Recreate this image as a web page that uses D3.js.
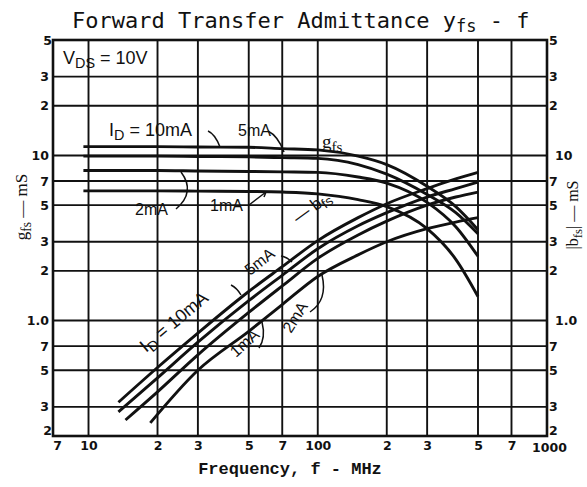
<!DOCTYPE html>
<html><head><meta charset="utf-8">
<script src="https://cdn.jsdelivr.net/npm/d3@7"></script>
<style>html,body{margin:0;padding:0;background:#fff;}svg{display:block;}</style>
</head><body>
<svg id="c" width="587" height="487"></svg>
<script>
// ---- data ----
const yTicks = [50, 30, 20, 10, 7, 5, 3, 2, 1, 0.7, 0.5, 0.3, 0.2];
const yTickLabels = ["5", "3", "2", "10", "7", "5", "3", "2", "1.0", "7", "5", "3", "2"];
const xTicks = [7, 10, 20, 30, 50, 70, 100, 200, 300, 500, 700, 1000];
const xTickLabels = ["7", "10", "2", "3", "5", "7", "100", "2", "3", "5", "7", "1000"];

const gfsFreq = [9.5, 20, 30, 50, 70, 100, 150, 200, 300, 400, 500];
const gfs10mA = [11.3, 11.3, 11.25, 11.2, 11.0, 10.8, 9.9, 8.8, 6.5, 4.9, 3.55];
const gfs5mA  = [9.9, 9.9, 9.85, 9.8, 9.7, 9.6, 8.8, 7.7, 5.8, 4.5, 3.35];
const gfs2mA  = [8.1, 8.1, 8.05, 8.0, 7.95, 7.9, 7.4, 6.8, 5.2, 3.7, 2.45];
const gfs1mA  = [6.1, 6.1, 6.08, 6.05, 6.0, 5.85, 5.4, 4.9, 3.6, 2.35, 1.4];

const bfsFreq10mA = [13.5, 20, 30, 50, 70, 100, 150, 200, 300, 400, 500];
const bfs10mA = [0.32, 0.52, 0.84, 1.5, 2.12, 3.05, 4.2, 5.1, 6.3, 7.2, 7.9];
const bfsFreq5mA = [13.5, 20, 30, 50, 70, 100, 150, 200, 300, 400, 500];
const bfs5mA = [0.28, 0.45, 0.74, 1.32, 1.88, 2.72, 3.75, 4.5, 5.6, 6.3, 6.9];
const bfsFreq2mA = [14.5, 20, 30, 50, 70, 100, 150, 200, 300, 400, 500];
const bfs2mA = [0.25, 0.37, 0.62, 1.12, 1.62, 2.38, 3.3, 4.0, 5.0, 5.6, 6.0];
const bfsFreq1mA = [18.6, 30, 50, 70, 100, 150, 200, 300, 400, 500];
const bfs1mA = [0.24, 0.5, 0.86, 1.25, 1.85, 2.5, 3.0, 3.6, 3.95, 4.2];

// ---- layout ----
const svg = d3.select("#c");
const L = 53, R = 547, T = 40, B = 436;
const x = d3.scaleLog().domain([7, 1000]).range([L, R]);
const y = d3.scaleLog().domain([0.2, 50]).range([B, T]);
const ink = "#111";

// grid
const g = svg.append("g");
g.selectAll("line.v").data(xTicks.slice(1, -1)).join("line")
  .attr("x1", d => x(d)).attr("x2", d => x(d)).attr("y1", T).attr("y2", B)
  .attr("stroke", ink).attr("stroke-width", 1.9);
g.selectAll("line.h").data(yTicks.slice(1, -1)).join("line")
  .attr("y1", d => y(d)).attr("y2", d => y(d)).attr("x1", L).attr("x2", R)
  .attr("stroke", ink).attr("stroke-width", 1.9);
g.append("rect").attr("x", L).attr("y", T).attr("width", R - L).attr("height", B - T)
  .attr("fill", "none").attr("stroke", ink).attr("stroke-width", 2.6);

// axes (labels via d3 axes)
const lab = "font-family:'DejaVu Sans';font-weight:bold;font-size:12.5px";
const leftAxis = d3.axisLeft(y).tickValues(yTicks).tickFormat((d, i) => yTickLabels[i]).tickSize(0).tickPadding(4);
const la = svg.append("g").attr("transform", `translate(${L},0)`).call(leftAxis);
const rightAxis = d3.axisRight(y).tickValues(yTicks).tickFormat((d, i) => yTickLabels[i]).tickSize(0).tickPadding(2);
const ra = svg.append("g").attr("transform", `translate(${R},0)`).call(rightAxis);
const bottomAxis = d3.axisBottom(x).tickValues(xTicks).tickFormat((d, i) => xTickLabels[i]).tickSize(0).tickPadding(5);
const ba = svg.append("g").attr("transform", `translate(0,${B})`).call(bottomAxis);
[la, ra, ba].forEach(a => {
  a.select(".domain").remove();
  a.selectAll("text").attr("style", lab).attr("fill", ink);
});
ra.selectAll("text").filter((d) => d === 10 || d === 1).attr("dx", 6);
ra.selectAll("text").filter((d) => d === 0.2).attr("dy", "-0.1em");
la.selectAll("text").filter((d) => d === 50).attr("dx", 3);
la.selectAll("text").filter((d) => d === 0.2).attr("dx", 3).attr("dy", "-0.15em");
ba.selectAll("text").filter((d) => d === 7).attr("dx", 4);
ba.selectAll("text").filter((d) => d === 1000).attr("dx", 2).attr("dy", "0.9em");

// curves
const line = d3.line().x(d => x(d[0])).y(d => y(d[1])).curve(d3.curveMonotoneX);
const gfsSeries = [gfs10mA, gfs5mA, gfs2mA, gfs1mA];
gfsSeries.forEach(s => {
  svg.append("path").attr("d", line(gfsFreq.map((f, i) => [f, s[i]])))
    .attr("fill", "none").attr("stroke", ink).attr("stroke-width", 2.9);
});
const bfsSeries = [[bfsFreq10mA, bfs10mA], [bfsFreq5mA, bfs5mA], [bfsFreq2mA, bfs2mA], [bfsFreq1mA, bfs1mA]];
bfsSeries.forEach(([fs, s]) => {
  svg.append("path").attr("d", line(fs.map((f, i) => [f, s[i]])))
    .attr("fill", "none").attr("stroke", ink).attr("stroke-width", 2.9);
});

// title
const title = svg.append("text").attr("x", 72).attr("y", 28)
  .attr("style", "font-family:'DejaVu Sans Mono';font-size:22px").attr("fill", ink);
title.append("tspan").text("Forward Transfer Admittance y");
title.append("tspan").attr("dy", 4).attr("font-size", 17).text("fs");
title.append("tspan").attr("dy", -4).text(" - f");

// text helper
const lbl = "font-family:'Liberation Sans';font-size:16px";
function sub(el, main, s, rest) {
  el.append("tspan").text(main);
  el.append("tspan").attr("dy", 4).attr("font-size", "0.8em").text(s);
  if (rest) el.append("tspan").attr("dy", -4).text(rest);
  return el;
}
sub(svg.append("text").attr("x", 63).attr("y", 64).attr("style", "font-family:'Liberation Sans';font-size:18px").attr("fill", ink), "V", "DS", " = 10V");
sub(svg.append("text").attr("x", 109).attr("y", 136).attr("style", "font-family:'Liberation Sans';font-size:18px").attr("fill", ink), "I", "D", " = 10mA");
svg.append("text").attr("x", 238).attr("y", 136).attr("style", lbl).attr("fill", ink).text("5mA");
sub(svg.append("text").attr("x", 322).attr("y", 148).attr("style", "font-family:'Liberation Serif';font-size:19px").attr("fill", ink), "g", "fs", null);
svg.append("text").attr("x", 135).attr("y", 215).attr("style", lbl).attr("fill", ink).text("2mA");
svg.append("text").attr("x", 210).attr("y", 211).attr("style", lbl).attr("fill", ink).text("1mA");

// leaders
const leader = (d) => svg.append("path").attr("d", d).attr("fill", "none").attr("stroke", ink).attr("stroke-width", 1.5);
leader("M208,131 Q215,134 220,147");
leader("M268,131 Q278,136 284,152");
leader("M181,172 Q196,192 176,209");
leader("M249,205 L266,192");
leader("M261,192 L266,192 L264,197");

// rotated bfs labels
function rot(xp, yp, ang, size, build) {
  const t = svg.append("text").attr("transform", `translate(${xp},${yp}) rotate(${ang})`)
    .attr("style", `font-family:'Liberation Sans';font-size:${size}px`).attr("fill", ink);
  build(t);
  return t;
}
rot(146, 353, -40, 18, t => sub(t, "I", "D", " = 10mA"));
rot(250, 276, -38, 16, t => t.text("5mA"));
rot(298, 224, -36, 17, t => sub(t, "— b", "fs", null));
rot(236, 358, -42, 16, t => t.text("1mA"));
rot(291, 334, -58, 16, t => t.text("2mA"));
leader("M231,285 Q237,288 241,295");
leader("M281,256 Q287,257 292,262");
leader("M259,348 Q266,338 262,322");
leader("M310,312 Q328,300 322,275");

// axis titles
const yl = svg.append("text").attr("transform", "translate(27,207) rotate(-90)").attr("text-anchor", "middle")
  .attr("style", "font-family:'Liberation Serif';font-size:17px").attr("fill", ink);
sub(yl, "g", "fs", " — mS");
const yr = svg.append("text").attr("transform", "translate(578,215) rotate(-90)").attr("text-anchor", "middle")
  .attr("style", "font-family:'Liberation Serif';font-size:16px").attr("fill", ink);
sub(yr, "|b", "fs", "| — mS");
svg.append("text").attr("x", 290).attr("y", 474).attr("text-anchor", "middle")
  .attr("style", "font-family:'Liberation Mono';font-weight:bold;font-size:17px").attr("fill", ink)
  .text("Frequency, f - MHz");
</script>
</body></html>
